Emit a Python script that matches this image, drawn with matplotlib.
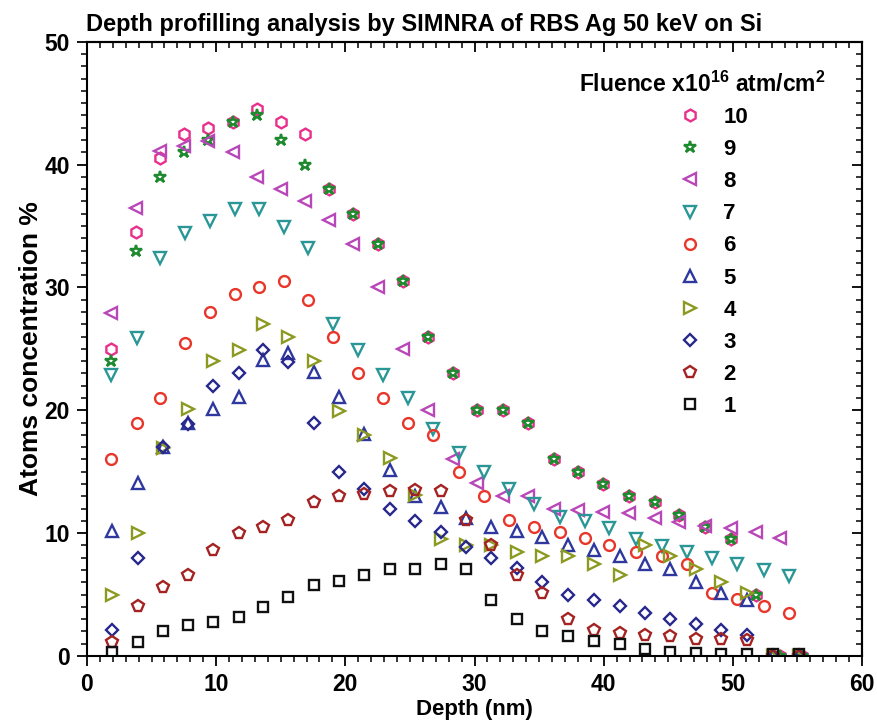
import matplotlib
matplotlib.use("Agg")
import matplotlib.pyplot as plt
from matplotlib.ticker import MultipleLocator

plt.rcParams['font.family'] = ['Liberation Sans', 'DejaVu Sans']
plt.rcParams['font.weight'] = 'bold'
plt.rcParams['mathtext.fontset'] = 'custom'
plt.rcParams['mathtext.bf'] = 'Liberation Sans:bold'
plt.rcParams['mathtext.rm'] = 'Liberation Sans:bold'
plt.rcParams['mathtext.default'] = 'bf'

# depth grids (nm); SIMNRA gives slightly different
# depth scales for the different fluences
depth_hi = [1.86, 3.79, 5.65, 7.53, 9.39, 11.28, 13.13, 14.99, 16.87, 18.75,
            20.61, 22.50, 24.48, 26.42, 28.30, 30.16, 32.17, 34.16, 36.15, 38.03,
            39.96, 41.97, 43.96, 45.84, 47.83, 49.82, 51.76, 53.64, 55.32]
depth_mid = [1.88, 3.84, 5.65, 7.62, 9.52, 11.42, 13.31, 15.23, 17.11, 19.07,
             21.01, 22.89, 24.83, 26.80, 28.77, 30.70, 32.67, 34.64, 36.61, 38.58,
             40.45, 42.51, 44.48, 46.46, 48.37, 50.33, 52.38, 54.38]
depth_lo = [1.91, 3.92, 5.88, 7.82, 9.78, 11.76, 13.66, 15.60, 17.58, 19.48,
            21.44, 23.42, 25.39, 27.38, 29.32, 31.30, 33.27, 35.26, 37.24, 39.26,
            41.25, 43.19, 45.17, 47.17, 49.11, 51.09, 53.10, 55.11]

# atoms concentration % for each fluence (x10^16 atm/cm2)
conc_10 = [25.0, 34.5, 40.5, 42.5, 43.0, 43.5, 44.5, 43.5, 42.5, 38.0,
           36.0, 33.5, 30.5, 26.0, 23.0, 20.0, 20.0, 19.0, 16.0, 15.0,
           14.0, 13.0, 12.5, 11.5, 10.5, 9.5, 5.0, 0.0, 0.0]
conc_9 = [24.0, 33.0, 39.0, 41.0, 42.0, 43.5, 44.0, 42.0, 40.0, 38.0,
          36.0, 33.5, 30.5, 26.0, 23.0, 20.0, 20.0, 19.0, 16.0, 15.0,
          14.0, 13.0, 12.5, 11.5, 10.5, 9.5, 5.0, 0.0, 0.0]
conc_8 = [27.9, 36.5, 41.1, 41.5, 41.9, 41.0, 39.0, 38.0, 37.0, 35.5,
          33.5, 30.0, 25.0, 20.0, 16.0, 14.1, 13.0, 13.0, 12.0, 11.9,
          11.7, 11.6, 11.2, 10.9, 10.6, 10.4, 10.1, 9.6]
conc_7 = [22.9, 25.9, 32.4, 34.4, 35.4, 36.4, 36.4, 34.9, 33.2, 27.0,
          24.9, 22.9, 21.0, 18.5, 16.5, 15.0, 13.6, 12.4, 11.3, 11.0,
          10.4, 9.5, 8.95, 8.5, 8.0, 7.5, 7.0, 6.5]
conc_6 = [16.0, 19.0, 21.0, 25.5, 28.0, 29.5, 30.0, 30.5, 29.0, 26.0,
          23.0, 21.0, 19.0, 18.0, 15.0, 13.0, 11.1, 10.5, 10.1, 9.6,
          9.0, 8.5, 8.1, 7.5, 5.15, 4.6, 4.1, 3.5]
conc_5 = [10.2, 14.1, 17.0, 19.0, 20.1, 21.1, 24.1, 24.7, 23.1, 21.1,
          18.1, 15.1, 13.0, 12.1, 11.2, 10.5, 10.2, 9.65, 9.0, 8.6,
          8.1, 7.5, 7.05, 6.05, 5.1, 4.55, 0.0, 0.0]
conc_4 = [5.0, 10.0, 16.9, 20.1, 24.0, 24.9, 27.0, 26.0, 24.0, 19.9,
          18.0, 16.1, 13.1, 9.5, 9.0, 9.0, 8.5, 8.1, 8.1, 7.5,
          6.6, 9.0, 8.1, 7.05, 6.05, 5.1, 0.0, 0.0]
conc_3 = [2.1, 8.0, 17.0, 18.9, 22.0, 23.0, 24.9, 23.9, 19.0, 15.0,
          13.6, 12.0, 11.0, 10.1, 8.9, 8.0, 7.2, 6.0, 5.0, 4.55,
          4.1, 3.5, 3.05, 2.6, 2.1, 1.7, 0.0, 0.0]
conc_2 = [1.1, 4.1, 5.6, 6.6, 8.6, 10.0, 10.5, 11.1, 12.5, 13.0,
          13.2, 13.4, 13.55, 13.4, 11.1, 9.0, 6.6, 5.1, 3.05, 2.1,
          1.9, 1.7, 1.6, 1.4, 1.35, 1.3, 0.0, 0.0]
conc_1 = [0.3, 1.1, 2.0, 2.5, 2.8, 3.15, 3.95, 4.8, 5.8, 6.1,
          6.6, 7.05, 7.1, 7.5, 7.05, 4.55, 3.05, 2.05, 1.6, 1.25,
          1.0, 0.6, 0.35, 0.25, 0.2, 0.2, 0.2, 0.2]

labels = ['10', '9', '8', '7', '6', '5', '4', '3', '2', '1']
depths = [depth_hi, depth_hi, depth_hi, depth_mid, depth_mid,
          depth_lo, depth_lo, depth_lo, depth_lo, depth_lo]
concs = [conc_10, conc_9, conc_8, conc_7, conc_6, conc_5, conc_4, conc_3, conc_2, conc_1]
markers = ['h', '*', '<', 'v', 'o', '^', '>', 'D', 'p', 's']
msizes = [8.5, 9, 8, 8, 7.8, 8, 8, 6.5, 8.5, 7]
colors = ['#e8308c', '#1e8a2e', '#b848b8', '#2a9696', '#e8362a',
          '#2e389e', '#8c9a22', '#28288c', '#a52222', '#111111']

fig = plt.figure(figsize=(8.77, 7.25), dpi=100)
ax = fig.add_axes([0.0992, 0.0952, 0.8837, 0.8473])

handles = []
for d, c, m, ms, col, lab in zip(depths, concs, markers, msizes, colors, labels):
    h, = ax.plot(d[:len(c)], c, linestyle='none', marker=m, ms=ms, mfc='none',
                 mec=col, mew=1.7, label=lab)
    handles.append(h)

ax.set_xlim(0, 60)
ax.set_ylim(0, 50)
ax.xaxis.set_major_locator(MultipleLocator(10))
ax.yaxis.set_major_locator(MultipleLocator(10))
ax.xaxis.set_minor_locator(MultipleLocator(1))
ax.yaxis.set_minor_locator(MultipleLocator(1))
ax.tick_params(which='major', direction='out', length=7.5, width=1.3,
               labelsize=16.5, pad=5)
ax.tick_params(which='minor', direction='out', length=4, width=1.1)
for sp in ax.spines.values():
    sp.set_linewidth(1.5)

# mirrored ticks on top and right pointing into the plot
top = ax.secondary_xaxis('top')
top.xaxis.set_major_locator(MultipleLocator(10))
top.xaxis.set_minor_locator(MultipleLocator(1))
top.tick_params(which='major', direction='in', length=7.5, width=1.3, labeltop=False)
top.tick_params(which='minor', direction='in', length=4, width=1.1)
top.spines['top'].set_linewidth(1.5)
right = ax.secondary_yaxis('right')
right.yaxis.set_major_locator(MultipleLocator(10))
right.yaxis.set_minor_locator(MultipleLocator(1))
right.tick_params(which='major', direction='in', length=7.5, width=1.3, labelright=False)
right.tick_params(which='minor', direction='in', length=4, width=1.1)
right.spines['right'].set_linewidth(1.5)

ax.set_xlabel('Depth (nm)', fontsize=16, fontweight='bold', labelpad=2)
ax.set_ylabel('Atoms concentration %', fontsize=19, fontweight='bold', labelpad=1)

fig.text(86 / 877, 1 - 31 / 725, 'Depth profilling analysis by SIMNRA of RBS Ag 50 keV on Si',
         fontsize=17, fontweight='bold', ha='left', va='baseline')

# legend title drawn as its own text, entries as a legend below it
fig.text(702 / 877, 1 - 84 / 725, r'Fluence x10$^{16}$ atm/cm$^{2}$',
         fontsize=16.5, fontweight='bold', ha='center', va='center')
leg = ax.legend(handles=handles, labels=labels, loc='upper left',
                bbox_to_anchor=((679 - 87) / 775.2, (656 - 107) / 614.3),
                frameon=False, borderaxespad=0, borderpad=0,
                prop={'size': 16, 'weight': 'bold'},
                handlelength=1.0, handletextpad=1.0, labelspacing=0.5,
                markerscale=1.0)

fig.savefig('out.png', dpi=100)
